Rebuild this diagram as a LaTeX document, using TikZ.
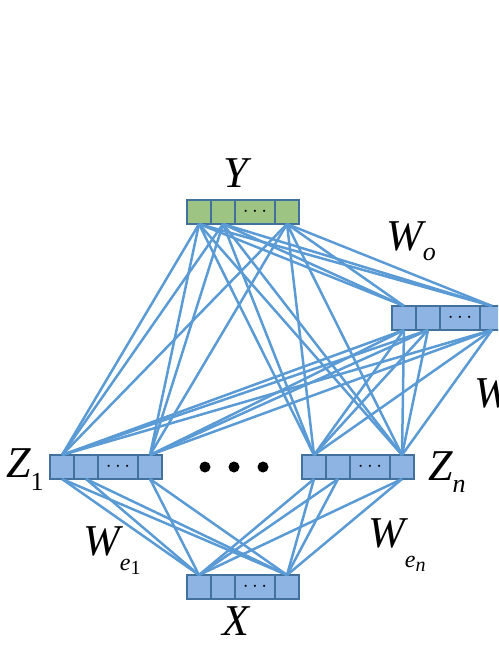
\documentclass[tikz,border=0pt]{standalone}
\usepackage{fontspec}
\setmainfont{LiberationSerif-Regular.ttf}[ItalicFont=LiberationSerif-Italic.ttf]
\usetikzlibrary{positioning}

\definecolor{cellblue}{HTML}{8EB4E3}
\definecolor{cellgreen}{HTML}{9DC482}
\definecolor{cellborder}{HTML}{41719C}
\definecolor{wireblue}{HTML}{5B9BD5}

\tikzset{
  cell/.style={draw=cellborder, line width=1.3pt, minimum width=24pt, minimum height=24pt,
    inner sep=0pt, outer sep=0pt, font=\fontsize{20}{20}\selectfont},
  wide/.style={minimum width=40pt},
  link/.style={draw=wireblue, line width=2.5pt},
  var/.style={font=\fontsize{44}{44}\selectfont\itshape, inner sep=0pt}
}

% one vector of four cells: name, x, y (top left), fill
\newcommand{\layer}[4]{%
  \node[cell, fill=#4, anchor=north west] (#1a) at (#2,#3) {};
  \node[cell, fill=#4, right=0pt of #1a] (#1b) {};
  \node[cell, wide, fill=#4, right=0pt of #1b] (#1c) {$\cdots$};
  \node[cell, fill=#4, right=0pt of #1c] (#1d) {};
}
\newcommand{\sub}[2]{\raisebox{-#1pt}{\fontsize{26}{26}\selectfont #2}}

\begin{document}
\begin{tikzpicture}[x=1pt, y=-1pt]
    \clip (0,0) rectangle (498,645);

    % vectors
    \layer{Y}{187}{200}{cellgreen}
    \layer{H}{392}{306}{cellblue}
    \layer{Za}{50}{455}{cellblue}
    \layer{Zb}{302}{455}{cellblue}
    \layer{X}{187}{575}{cellblue}

    % connections
    \foreach \lo in {Za,Zb}{
      \foreach \p in {a,d}{
        \foreach \q in {a,b,d}{
          \draw[link] (X\p.north) -- (\lo\q.south);
          \draw[link] (\lo\p.north) -- (Y\q.south);
          \draw[link] (\lo\p.north) -- (H\q.south);
        }}}
    \foreach \p in {a,d}{
      \foreach \q in {a,b,d}{
        \draw[link] (H\p.north) -- (Y\q.south);
      }}

    % dots between the Z vectors
    \foreach \x in {205,234,263}
      \fill (\x,467) circle[radius=5.5pt];

    % labels
    \node[var, anchor=base] (ylbl) at (236,187) {Y};
    \node[var, anchor=base] (xlbl) at (236,635) {X};
    \node[var, anchor=base west] (zalbl) at (6,477) {Z\sub{13}{\upshape 1}};
    \node[var, anchor=base west] (zblbl) at (428,480) {Z\sub{12}{n}};
    \node[var, anchor=base west] (wolbl) at (386,250) {W\sub{10}{o}};
    \node[var, anchor=base west] (whlbl) at (474,407) {W};
    \node[var, anchor=base west] (walbl) at (83,555)
      {W\raisebox{-15pt}{\fontsize{24}{24}\selectfont e\raisebox{-4pt}{\fontsize{20}{20}\selectfont\upshape 1}}};
    \node[var, anchor=base west] (wblbl) at (368,547)
      {W\raisebox{-20pt}{\fontsize{24}{24}\selectfont e\raisebox{-4pt}{\fontsize{20}{20}\selectfont n}}};
\end{tikzpicture}
\end{document}
